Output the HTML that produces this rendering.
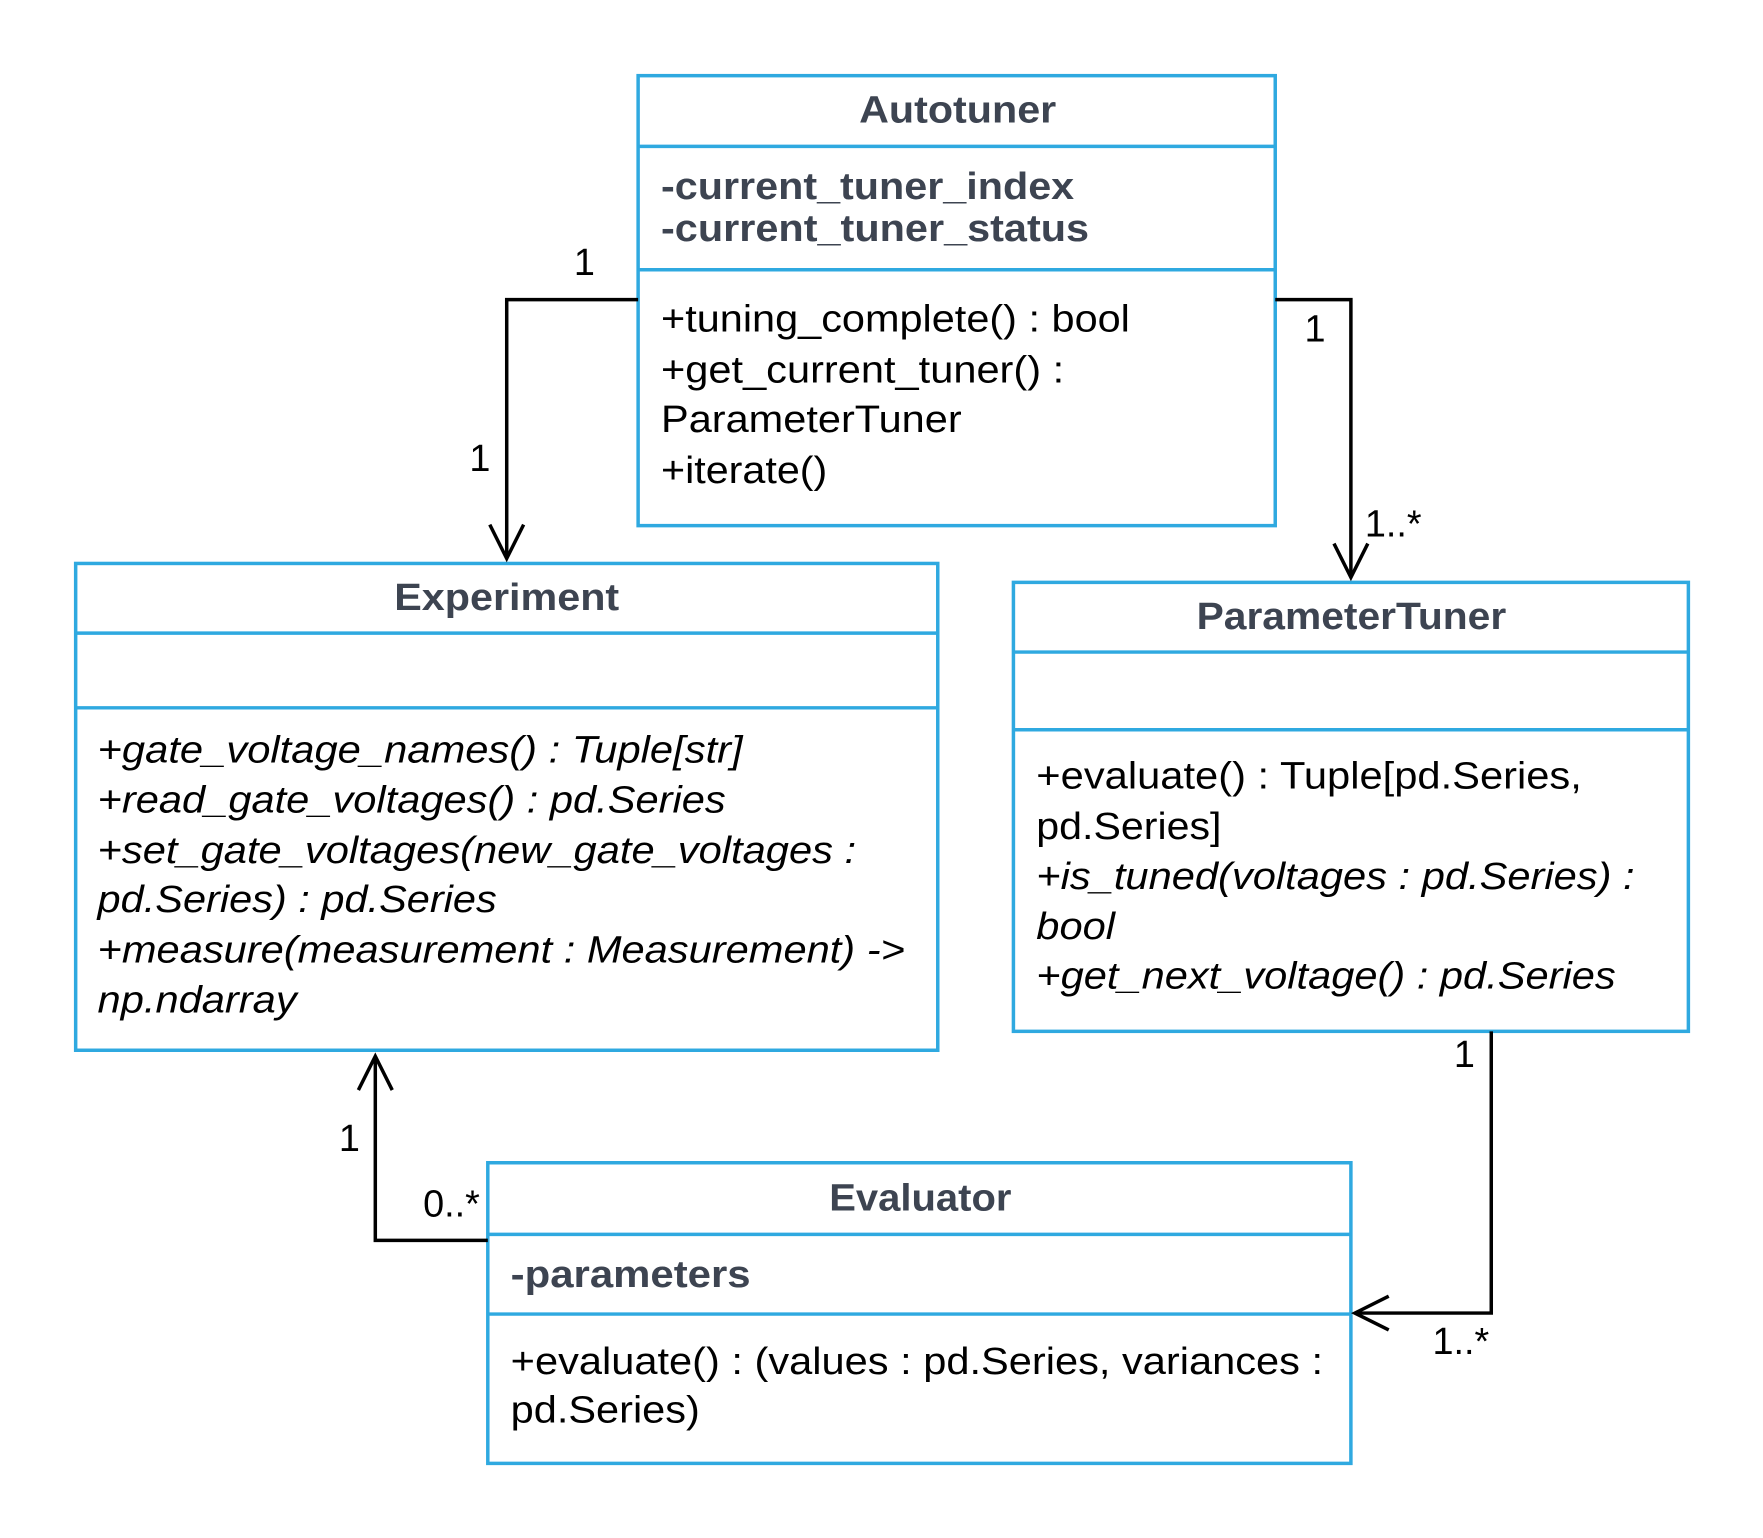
<!DOCTYPE html>
<html><head><meta charset="utf-8"><style>html,body{margin:0;padding:0;background:#fff}svg{display:block}</style></head>
<body>
<svg width="1763" height="1538" viewBox="0 0 1763 1538" xmlns="http://www.w3.org/2000/svg">
<rect width="1763" height="1538" fill="#fff"/>
<g transform="translate(1,1) scale(0.9955)">
<g fill="none" stroke="#2fa9e0" stroke-width="3.5">
<rect x="640" y="75" width="640" height="452"/><line x1="640" y1="146" x2="1280" y2="146"/><line x1="640" y1="270" x2="1280" y2="270"/>
<rect x="75" y="565" width="866" height="489"/><line x1="75" y1="635" x2="941" y2="635"/><line x1="75" y1="710" x2="941" y2="710"/>
<rect x="1017" y="584" width="678" height="451"/><line x1="1017" y1="654" x2="1695" y2="654"/><line x1="1017" y1="732" x2="1695" y2="732"/>
<rect x="489" y="1167" width="867" height="302"/><line x1="489" y1="1239" x2="1356" y2="1239"/><line x1="489" y1="1319" x2="1356" y2="1319"/>
</g>
<g fill="none" stroke="#000" stroke-width="3.5">
<polyline points="640,300 508,300 508,560"/><polyline points="491,526 508,560 525,526"/>
<polyline points="1280,300 1356,300 1356,579"/><polyline points="1339,545 1356,579 1373,545"/>
<polyline points="489,1245 376,1245 376,1060"/><polyline points="359,1094 376,1060 393,1094"/>
<polyline points="1497,1035 1497,1318 1360,1318"/><polyline points="1394,1301 1360,1318 1394,1335"/>
</g>
<g font-family="Liberation Sans, sans-serif" font-size="38" fill="#000">
<text x="586" y="275" text-anchor="middle">1</text>
<text x="481" y="472" text-anchor="middle">1</text>
<text x="1320" y="342" text-anchor="middle">1</text>
<text x="1370" y="538">1..*</text>
<text x="350" y="1155" text-anchor="middle">1</text>
<text x="424" y="1221">0..*</text>
<text x="1470" y="1071" text-anchor="middle">1</text>
<text x="1438" y="1359">1..*</text>
</g>
<g font-family="Liberation Sans, sans-serif" font-weight="bold" font-size="38" fill="#3d4451">
<text x="862" y="122" textLength="198" lengthAdjust="spacingAndGlyphs">Autotuner</text>
<text x="663" y="199" textLength="415" lengthAdjust="spacingAndGlyphs">-current_tuner_index</text>
<text x="663" y="241" textLength="430" lengthAdjust="spacingAndGlyphs">-current_tuner_status</text>
<text x="395" y="612" textLength="226" lengthAdjust="spacingAndGlyphs">Experiment</text>
<text x="1201" y="631" textLength="311" lengthAdjust="spacingAndGlyphs">ParameterTuner</text>
<text x="832" y="1215" textLength="183" lengthAdjust="spacingAndGlyphs">Evaluator</text>
<text x="512" y="1292" textLength="241" lengthAdjust="spacingAndGlyphs">-parameters</text>
</g>
<g font-family="Liberation Sans, sans-serif" font-size="38" fill="#000">
<text x="663" y="332" textLength="471" lengthAdjust="spacingAndGlyphs">+tuning_complete() : bool</text>
<text x="663" y="383" textLength="405" lengthAdjust="spacingAndGlyphs">+get_current_tuner() :</text>
<text x="663" y="433" textLength="302" lengthAdjust="spacingAndGlyphs">ParameterTuner</text>
<text x="663" y="484" textLength="167" lengthAdjust="spacingAndGlyphs">+iterate()</text>
<g font-style="italic">
<text x="97" y="765" textLength="648" lengthAdjust="spacingAndGlyphs">+gate_voltage_names() : Tuple[str]</text>
<text x="97" y="815" textLength="631" lengthAdjust="spacingAndGlyphs">+read_gate_voltages() : pd.Series</text>
<text x="97" y="866" textLength="762" lengthAdjust="spacingAndGlyphs">+set_gate_voltages(new_gate_voltages :</text>
<text x="97" y="915" textLength="401" lengthAdjust="spacingAndGlyphs">pd.Series) : pd.Series</text>
<text x="97" y="966" textLength="811" lengthAdjust="spacingAndGlyphs">+measure(measurement : Measurement) -&gt;</text>
<text x="97" y="1016" textLength="200" lengthAdjust="spacingAndGlyphs">np.ndarray</text>
</g>
<text x="1040" y="791" textLength="548" lengthAdjust="spacingAndGlyphs">+evaluate() : Tuple[pd.Series,</text>
<text x="1040" y="842" textLength="186" lengthAdjust="spacingAndGlyphs">pd.Series]</text>
<g font-style="italic">
<text x="1040" y="892" textLength="601" lengthAdjust="spacingAndGlyphs">+is_tuned(voltages : pd.Series) :</text>
<text x="1040" y="942" textLength="79" lengthAdjust="spacingAndGlyphs">bool</text>
<text x="1040" y="992" textLength="582" lengthAdjust="spacingAndGlyphs">+get_next_voltage() : pd.Series</text>
</g>
<text x="512" y="1379" textLength="816" lengthAdjust="spacingAndGlyphs">+evaluate() : (values : pd.Series, variances :</text>
<text x="512" y="1428" textLength="190" lengthAdjust="spacingAndGlyphs">pd.Series)</text>
</g>
</g>
</svg>
</body></html>
